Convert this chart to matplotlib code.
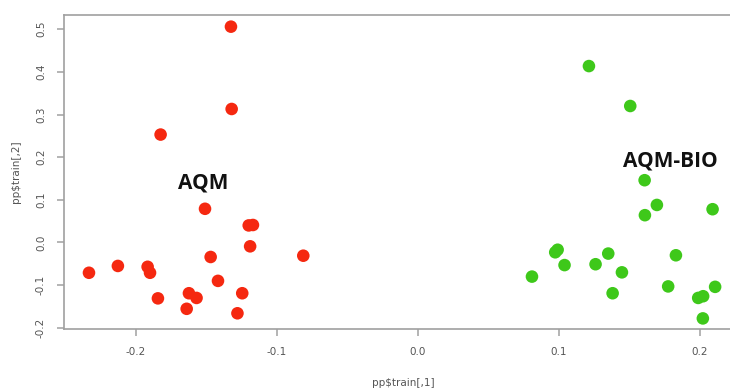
import matplotlib
matplotlib.use("Agg")
import matplotlib.pyplot as plt

# Puntos (PC1, PC2)
aqm_x = [-0.1326, -0.1321, -0.1825, -0.151, -0.120, -0.117, -0.119, -0.0813, -0.147, -0.2333,
         -0.2128, -0.1917, -0.190, -0.1418, -0.1844, -0.1624, -0.157, -0.1246, -0.164, -0.128]
aqm_y = [0.506, 0.313, 0.253, 0.079, 0.040, 0.041, -0.009, -0.031, -0.034, -0.071,
         -0.055, -0.057, -0.071, -0.090, -0.131, -0.119, -0.130, -0.119, -0.1555, -0.166]

bio_x = [0.1213, 0.1506, 0.1608, 0.1695, 0.1610, 0.2090, 0.0974, 0.0991, 0.1040, 0.0809,
         0.1260, 0.1350, 0.1447, 0.1381, 0.1830, 0.1775, 0.1988, 0.2023, 0.2108, 0.2021]
bio_y = [0.4136, 0.320, 0.146, 0.088, 0.064, 0.078, -0.023, -0.017, -0.053, -0.080,
         -0.051, -0.026, -0.070, -0.119, -0.030, -0.103, -0.130, -0.126, -0.104, -0.178]

x_ticks = [-0.2, -0.1, 0.0, 0.1, 0.2]
y_ticks = [-0.2, -0.1, 0.0, 0.1, 0.2, 0.3, 0.4, 0.5]

fig = plt.figure(figsize=(7.3, 3.92), dpi=100)
# el eje se sale por la derecha, como en la captura original
ax = fig.add_axes([0.0877, 0.160, 0.929, 0.803])

ax.scatter(aqm_x, aqm_y, s=82, color="#f52810", edgecolors="none")
ax.scatter(bio_x, bio_y, s=82, color="#3ec81a", edgecolors="none")

ax.text(-0.1525, 0.140, "AQM", fontsize=15, fontweight="bold", family="Open Sans",
        ha="center", va="center", color="#111111")
ax.text(0.179, 0.190, "AQM-BIO", fontsize=15, fontweight="bold", family="Open Sans",
        ha="center", va="center", color="#111111")

ax.set_xlim(-0.251, 0.230)
ax.set_ylim(-0.2035, 0.5345)
ax.set_xticks(x_ticks)
ax.set_xticklabels([f"{v:.1f}" for v in x_ticks])
ax.set_yticks(y_ticks)
ax.set_yticklabels([f"{v:.1f}" for v in y_ticks], rotation=90, va="center")

for s in ax.spines.values():
    s.set_color("#a0a0a0")
    s.set_linewidth(1.2)
ax.tick_params(direction="out", length=5, width=1.1, color="#a0a0a0",
               labelsize=7.5, labelcolor="#555555", pad=8)

ax.set_xlabel("pp$train[,1]", fontsize=7.5, color="#555555", labelpad=15)
ax.set_ylabel("pp$train[,2]", fontsize=7.5, color="#555555", labelpad=11)

plt.savefig("out.png", dpi=100, facecolor="white")
plt.close()
